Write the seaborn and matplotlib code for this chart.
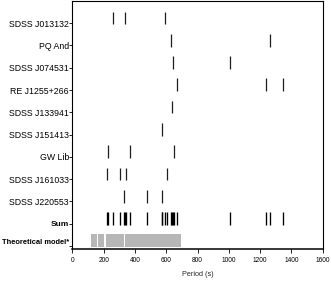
import matplotlib
matplotlib.use("Agg")
import matplotlib.pyplot as plt
import seaborn as sns
import pandas as pd

# ---- data ----
stars = ["SDSS J013132", "PQ And", "SDSS J074531", "RE J1255+266", "SDSS J133941",
         "SDSS J151413", "GW Lib", "SDSS J161033", "SDSS J220553"]
p_j013132 = [262, 335, 594]
p_pqand = [632, 1263]
p_j074531 = [644, 1009]
p_rej1255 = [666, 1235, 1344]
p_j133941 = [638]
p_j151413 = [570]
p_gwlib = [226, 368, 649]
p_j161033 = [220, 301, 341, 607]
p_j220553 = [331, 475, 573]
periods = [p_j013132, p_pqand, p_j074531, p_rej1255, p_j133941,
           p_j151413, p_gwlib, p_j161033, p_j220553]
model_starts = [118, 165, 212, 333]
model_ends = [157, 203, 328, 697]
xticks = [0, 200, 400, 600, 800, 1000, 1200, 1400, 1600]

sns.set_style("ticks")
plt.rcParams["font.family"] = ["Liberation Sans", "DejaVu Sans"]

n = len(stars)
ymap = {name: 10 - i for i, name in enumerate(stars)}
rows = []
for name, ps in zip(stars, periods):
    for p in ps:
        rows.append({"row": name, "period": p})
df = pd.DataFrame(rows)
df["y"] = df["row"].map(ymap)
sum_df = df.copy()
sum_df["y"] = 1

fig = plt.figure(figsize=(3.31, 2.91), dpi=100)
ax = fig.add_axes([0.219, 0.144, 0.756, 0.853])

col = "#1e1e1e"
ax.vlines(df["period"], df["y"] - 0.05, df["y"] + 0.52, color=col, lw=0.9)
ax.vlines(sum_df["period"], sum_df["y"] - 0.05, sum_df["y"] + 0.52, color="#000000", lw=0.95)
ax.broken_barh([(s, e - s) for s, e in zip(model_starts, model_ends)], (-0.05, 0.57),
               facecolor="#b7b7b7", edgecolor="none")

ax.set_xlim(0, 1600)
ax.set_ylim(-0.14, 11.0)
ax.set_xticks(xticks)
ax.set_xticklabels([str(t) for t in xticks])
ylabels = stars + ["Sum", "Theoretical model*"]
ax.set_yticks([10 - i for i in range(n)] + [1, 0])
ax.set_yticklabels(ylabels, fontsize=6.3)
labs = ax.get_yticklabels()
labs[-2].set_fontweight("bold")
labs[-2].set_fontsize(6.0)
labs[-1].set_fontweight("bold")
labs[-1].set_fontsize(5.4)
labs[-1].set_verticalalignment("bottom")
ax.tick_params(axis="y", length=2, width=0.6, pad=0.6, colors="black")
ax.tick_params(axis="x", length=3, width=0.6, pad=3, colors="black", labelsize=4.7)
ax.set_xlabel("Period (s)", fontsize=5.2, labelpad=5)
for s in ax.spines.values():
    s.set_color("black")
    s.set_linewidth(0.8)
ax.spines["bottom"].set_linewidth(1.1)
ax.grid(False)

fig.savefig("out.png", dpi=100)
